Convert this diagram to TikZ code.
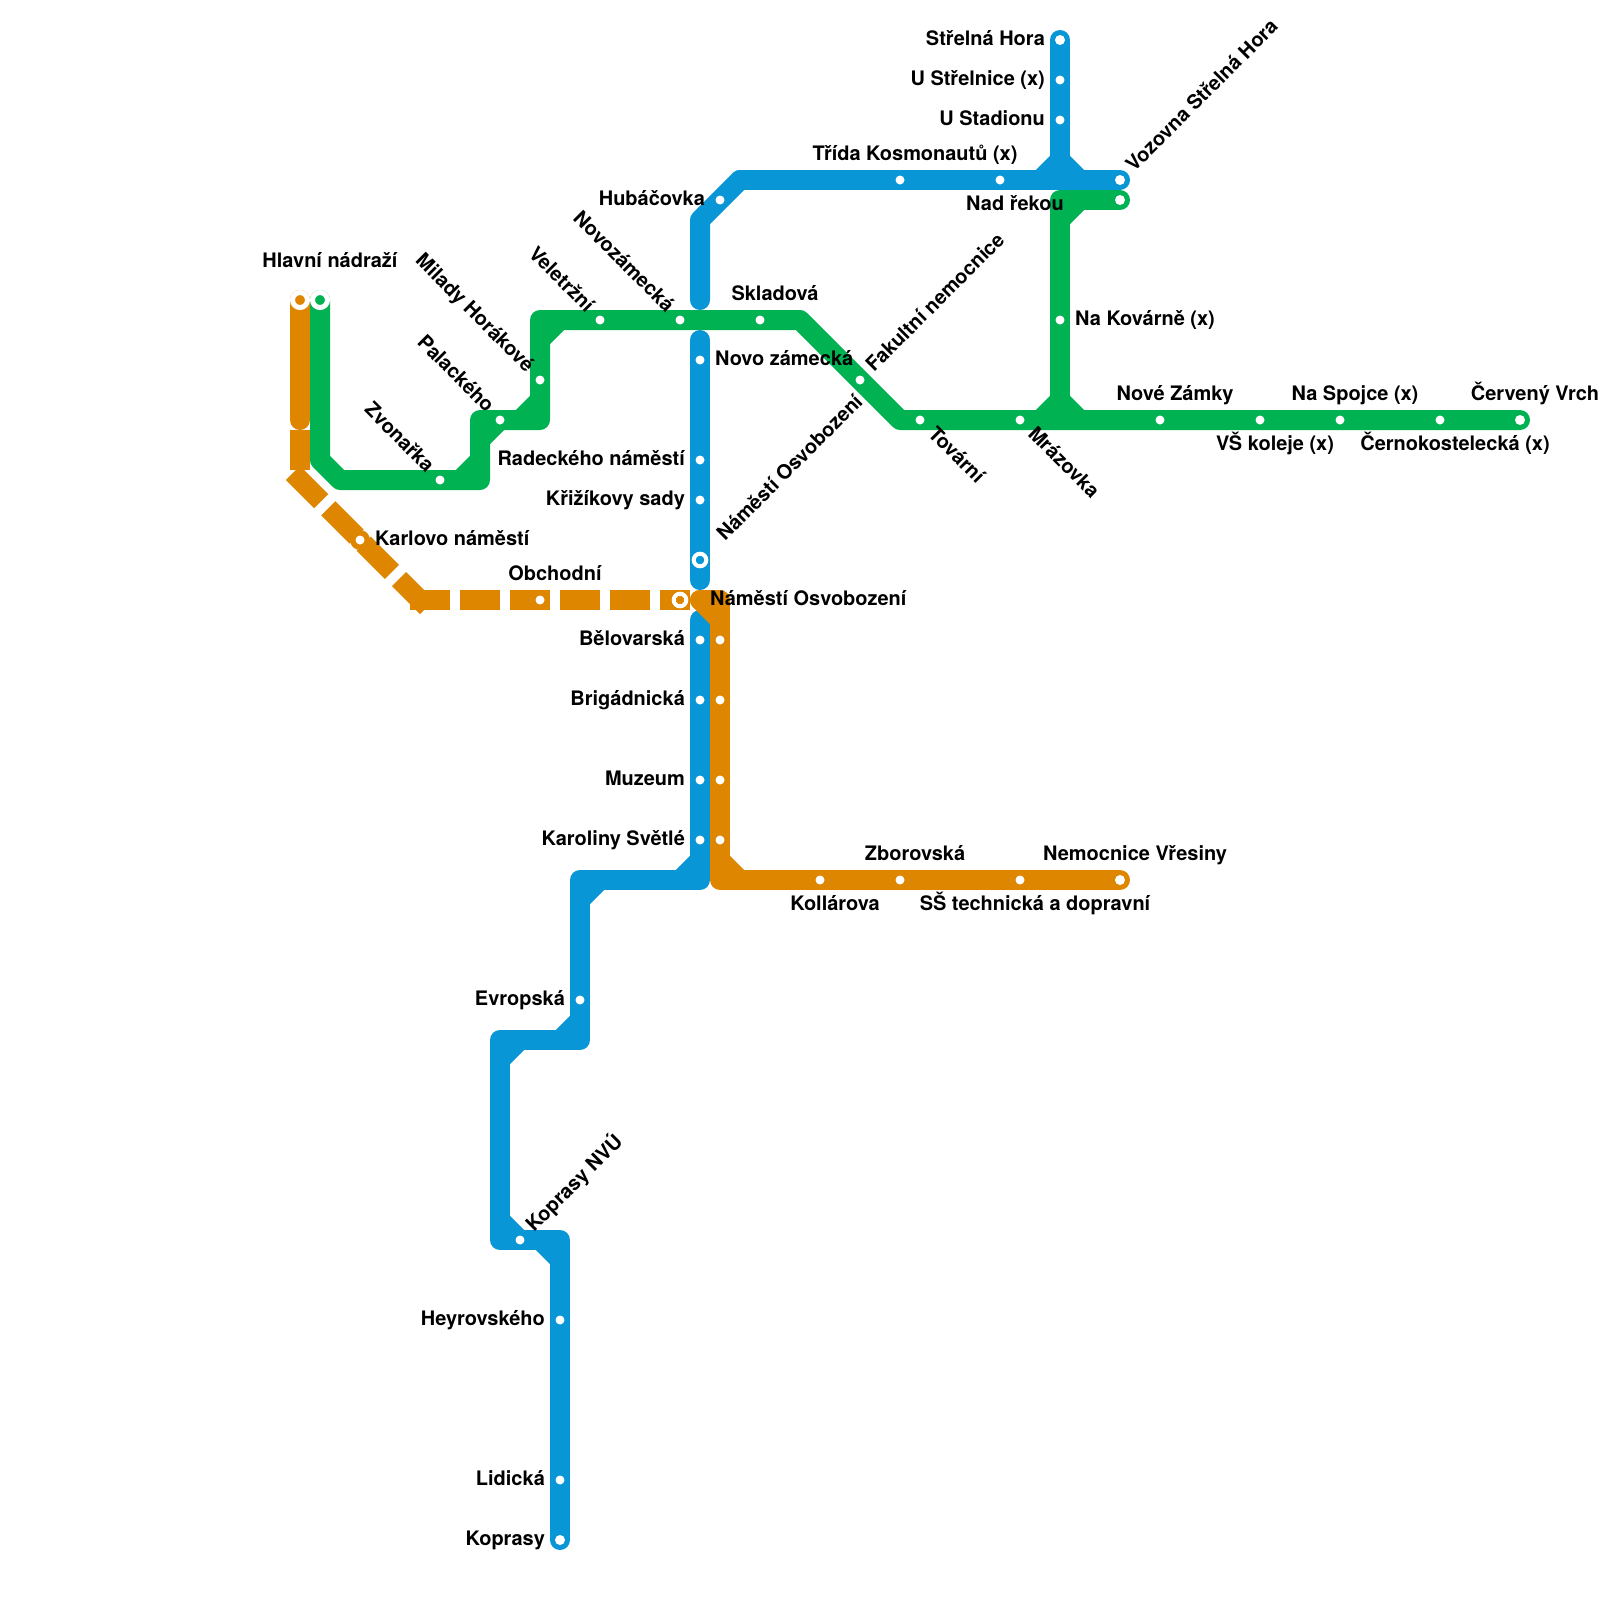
\documentclass[tikz,border=0pt]{standalone}
\usepackage{fontspec}
\setmainfont{TeX Gyre Heros}
\usepackage{tikz}
\definecolor{metroblue}{HTML}{0896D7}
\definecolor{metrogreen}{HTML}{00B251}
\definecolor{metroorange}{HTML}{DF8600}
\tikzset{
  track/.style={line width=1cm,line join=round,line cap=round},
  bluetrack/.style={track,metroblue},
  greentrack/.style={track,metrogreen},
  orangetrack/.style={track,metroorange},
  orangedash/.style={metroorange,line width=1cm,line cap=rect,dash pattern=on 1cm off 1.5cm},
  stop/.style={circle,fill=white,inner sep=0pt,minimum size=0.45cm},
  endstop/.style={stop,minimum size=0.5cm},
  stopdisc/.style={circle,fill=metroorange,inner sep=0pt,minimum size=1cm},
  ring/.style={circle,draw=white,line width=0.2cm,inner sep=0pt,minimum size=0.63cm},
  endring/.style={circle,draw=white,line width=0.25cm,inner sep=0pt,minimum size=0.75cm},
  tag/.style={inner sep=0pt,font=\fontsize{28.4}{32}\selectfont\bfseries},
  tagl/.style={tag,xshift=-0.75cm,yshift=-0.25cm,anchor=base east},
  tagr/.style={tag,xshift=0.75cm,yshift=-0.25cm,anchor=base west},
  tagu/.style={tag,xshift=0.75cm,yshift=1cm,anchor=base},
  tagd/.style={tag,xshift=0.75cm,yshift=-1.5cm,anchor=base},
  tagne/.style={tag,xshift=0.7cm,yshift=0.35cm,rotate=45,anchor=base west},
  tagnw/.style={tag,xshift=-0.7cm,yshift=0.33cm,rotate=-45,anchor=base east},
  tagse/.style={tag,xshift=0.35cm,yshift=-0.75cm,rotate=-45,anchor=base west},
}
\begin{document}
\begin{tikzpicture}[x=1cm,y=-1cm]
\useasboundingbox (0,0) rectangle (80,80);
% blue line
\coordinate (bA) at (53,2);
\coordinate (bB) at (53,9);
\coordinate (bC) at (56,9);
\coordinate (bD) at (37,9);
\coordinate (bE) at (35,11);
\coordinate (bF) at (35,15);
\coordinate (bG) at (35,17);
\coordinate (bH) at (35,29);
\coordinate (bI) at (35,31);
\coordinate (bJ) at (35,44);
\coordinate (bK) at (29,44);
\coordinate (bL) at (29,52);
\coordinate (bM) at (25,52);
\coordinate (bN) at (25,62);
\coordinate (bO) at (28,62);
\coordinate (bP) at (28,77);
\draw[bluetrack] (bA) -- (bB);
\draw[bluetrack] (bD) -- (bC);
\draw[bluetrack] (bB) ++(-1,0) -- ++(1,-1) -- ++(1,1);
\draw[bluetrack] (bD) -- (bE) -- (bF);
\draw[bluetrack] (bG) -- (bH);
\draw[bluetrack] (bI) -- (bJ) -- (bK) -- (bL) -- (bM) -- (bN) -- (bO) -- (bP);
\draw[bluetrack] (bJ) ++(-1,0) -- ++(1,-1);
\draw[bluetrack] (bK) ++(1,0) -- ++(-1,1);
\draw[bluetrack] (bL) ++(-1,0) -- ++(1,-1);
\draw[bluetrack] (bM) ++(1,0) -- ++(-1,1);
\draw[bluetrack] (bN) ++(0,-1) -- ++(1,1);
\draw[bluetrack] (bO) ++(-1,0) -- ++(1,1);
% green line
\coordinate (gA) at (16,15);
\coordinate (gB) at (16,23);
\coordinate (gC) at (17,24);
\coordinate (gD) at (24,24);
\coordinate (gE) at (24,21);
\coordinate (gF) at (27,21);
\coordinate (gG) at (27,16);
\coordinate (gH) at (40,16);
\coordinate (gI) at (45,21);
\coordinate (gJ) at (76,21);
\coordinate (gK) at (53,21);
\coordinate (gL) at (53,10);
\coordinate (gM) at (56,10);
\draw[greentrack] (gA) -- (gB) -- (gC) -- (gD) -- (gE) -- (gF) -- (gG) -- (gH) -- (gI) -- (gJ);
\draw[greentrack] (gD) ++(-1,0) -- ++(1,-1);
\draw[greentrack] (gE) ++(0,1) -- ++(1,-1);
\draw[greentrack] (gF) ++(-1,0) -- ++(1,-1);
\draw[greentrack] (gG) ++(0,1) -- ++(1,-1);
\draw[greentrack] (gK) -- (gL) -- (gM);
\draw[greentrack] (gK) ++(-1,0) -- ++(1,-1) -- ++(1,1);
\draw[greentrack] (gL) ++(0,1) -- ++(1,-1);
% orange line
\coordinate (oA) at (15,15);
\coordinate (oB) at (15,21);
\coordinate (oC) at (15,22);
\coordinate (oD) at (15,24);
\coordinate (oE) at (21,30);
\coordinate (oF) at (34,30);
\coordinate (oG) at (35,30);
\coordinate (oH) at (36,30);
\coordinate (oI) at (36,44);
\coordinate (oJ) at (56,44);
\draw[orangetrack] (oA) -- (oB);
\draw[orangedash] (oC) -- (oD);
\draw[orangedash] (oD) -- (oE);
\draw[orangedash] (oE) -- (oF);
\draw[orangetrack] (oG) -- (oH) -- (oI) -- (oJ);
\draw[orangetrack] (oG) -- ++(1,1);
\draw[orangetrack] (oI) ++(0,-1) -- ++(1,1);
% stations of the blue line
\node[endstop] (strelna) at (bA) {};
\node[stop] (strelnice) at (53,4) {};
\node[stop] (stadion) at (53,6) {};
\node[endstop] (vozovna) at (bC) {};
\node[stop] (nadrekou) at (50,9) {};
\node[stop] (kosmonautu) at (45,9) {};
\node[stop] (hubacovka) at (36,10) {};
\node[stop] (novozamecka) at (35,18) {};
\node[stop] (radeckeho) at (35,23) {};
\node[stop] (krizikovy) at (35,25) {};
\node[ring,fill=metroblue] (osvobozeniB) at (35,28) {};
\node[stop] (belovarska) at (35,32) {};
\node[stop] (brigadnicka) at (35,35) {};
\node[stop] (muzeumB) at (35,39) {};
\node[stop] (karolinyB) at (35,42) {};
\node[stop] (evropska) at (29,50) {};
\node[stop] (nvu) at (26,62) {};
\node[stop] (heyrovskeho) at (28,66) {};
\node[stop] (lidicka) at (28,74) {};
\node[endstop] (koprasy) at (bP) {};
% stations of the green line
\node[endring,fill=metrogreen] (hlavniG) at (gA) {};
\node[stop] (zvonarka) at (22,24) {};
\node[stop] (palackeho) at (25,21) {};
\node[stop] (horakove) at (27,19) {};
\node[stop] (veletrzni) at (30,16) {};
\node[stop] (novozamec) at (34,16) {};
\node[stop] (skladova) at (38,16) {};
\node[stop] (fakultni) at (43,19) {};
\node[stop] (tovarni) at (46,21) {};
\node[stop] (mrazovka) at (51,21) {};
\node[stop] (novezamky) at (58,21) {};
\node[stop] (koleje) at (63,21) {};
\node[stop] (spojce) at (67,21) {};
\node[stop] (cerno) at (72,21) {};
\node[endstop] (vrch) at (gJ) {};
\node[stop] (kovarne) at (53,16) {};
\node[endstop] (nadrekouG) at (gM) {};
% stations of the orange line
\node[endring,fill=metroorange] (hlavniO) at (oA) {};
\node[stopdisc] (karloDisc) at (18,27) {};
\node[stop] (karlovo) at (karloDisc) {};
\node[stop] (obchodni) at (27,30) {};
\node[ring,fill=metroorange] (osvobozeniO) at (oF) {};
\node[stop] (belovarskaO) at (36,32) {};
\node[stop] (brigadnickaO) at (36,35) {};
\node[stop] (muzeumO) at (36,39) {};
\node[stop] (karolinyO) at (36,42) {};
\node[stop] (kollarova) at (41,44) {};
\node[stop] (zborovska) at (45,44) {};
\node[stop] (technicka) at (51,44) {};
\node[endstop] (vresiny) at (oJ) {};
% labels
\node[tagl] (strelnaL) at (strelna) {Střelná Hora};
\node[tagl] (strelniceL) at (strelnice) {U Střelnice (x)};
\node[tagl] (stadionL) at (stadion) {U Stadionu};
\node[tagne] (vozovnaL) at (vozovna) {Vozovna Střelná Hora};
\node[tagd] (nadrekouL) at (nadrekou) {Nad řekou};
\node[tagu] (kosmonautuL) at (kosmonautu) {Třída Kosmonautů (x)};
\node[tagl] (hubacovkaL) at (hubacovka) {Hubáčovka};
\node[tagr] (novozameckaL) at (novozamecka) {Novo zámecká};
\node[tagl] (radeckehoL) at (radeckeho) {Radeckého náměstí};
\node[tagl] (krizikovyL) at (krizikovy) {Křižíkovy sady};
\node[tag,xshift=1.25cm,yshift=0.9cm,rotate=45,anchor=base west] (osvobozeniBL) at (osvobozeniB) {Náměstí Osvobození};
\node[tagl] (belovarskaL) at (belovarska) {Bělovarská};
\node[tagl] (brigadnickaL) at (brigadnicka) {Brigádnická};
\node[tagl] (muzeumL) at (muzeumB) {Muzeum};
\node[tagl] (karolinyL) at (karolinyB) {Karoliny Světlé};
\node[tagl] (evropskaL) at (evropska) {Evropská};
\node[tagne] (nvuL) at (nvu) {Koprasy NVÚ};
\node[tagl] (heyrovskehoL) at (heyrovskeho) {Heyrovského};
\node[tagl] (lidickaL) at (lidicka) {Lidická};
\node[tagl] (koprasyL) at (koprasy) {Koprasy};
\node[tag,xshift=1.5cm,yshift=1.65cm,anchor=base] (hlavniL) at (hlavniO) {Hlavní nádraží};
\node[tagnw] (zvonarkaL) at (zvonarka) {Zvonařka};
\node[tagnw] (palackehoL) at (palackeho) {Palackého};
\node[tagnw] (horakoveL) at (horakove) {Milady Horákové};
\node[tagnw] (veletrzniL) at (veletrzni) {Veletržní};
\node[tagnw] (novozamecL) at (novozamec) {Novozámecká};
\node[tagu] (skladovaL) at (skladova) {Skladová};
\node[tagne] (fakultniL) at (fakultni) {Fakultní nemocnice};
\node[tagse] (tovarniL) at (tovarni) {Tovární};
\node[tagse] (mrazovkaL) at (mrazovka) {Mrázovka};
\node[tagu] (novezamkyL) at (novezamky) {Nové Zámky};
\node[tagd] (kolejeL) at (koleje) {VŠ koleje (x)};
\node[tagu] (spojceL) at (spojce) {Na Spojce (x)};
\node[tagd] (cernoL) at (cerno) {Černokostelecká (x)};
\node[tagu] (vrchL) at (vrch) {Červený Vrch};
\node[tagr] (kovarneL) at (kovarne) {Na Kovárně (x)};
\node[tagr] (karlovoL) at (karlovo) {Karlovo náměstí};
\node[tagu] (obchodniL) at (obchodni) {Obchodní};
\node[tag,xshift=1.5cm,yshift=-0.25cm,anchor=base west] (osvobozeniOL) at (osvobozeniO) {Náměstí Osvobození};
\node[tagd] (kollarovaL) at (kollarova) {Kollárova};
\node[tagu] (zborovskaL) at (zborovska) {Zborovská};
\node[tagd] (technickaL) at (technicka) {SŠ technická a dopravní};
\node[tagu] (vresinyL) at (vresiny) {Nemocnice Vřesiny};
\end{tikzpicture}
\end{document}
